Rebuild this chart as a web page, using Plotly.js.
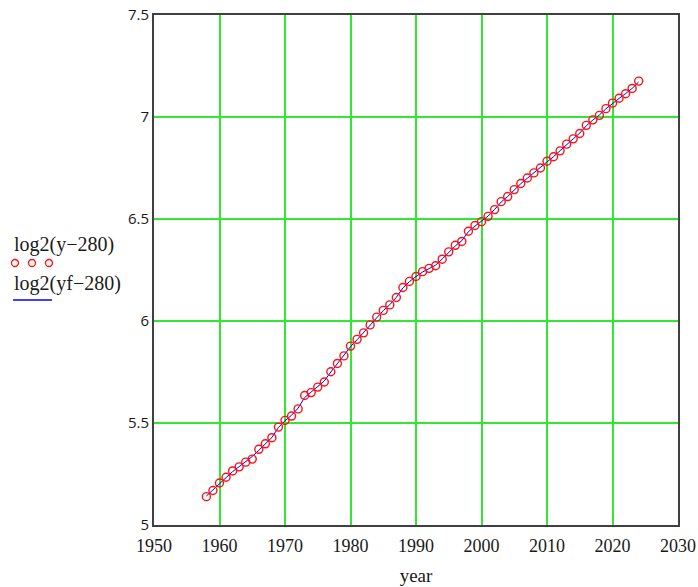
<!DOCTYPE html>
<html>
<head>
<meta charset="utf-8">
<script src="https://cdn.plot.ly/plotly-3.0.1.min.js"></script>
<style>html,body{margin:0;padding:0;background:#fff;}#chart{width:698px;height:587px;}</style>
</head>
<body>
<div id="chart"></div>
<script>
// Years of the annual points
const years = [1958,1959,1960,1961,1962,1963,1964,1965,1966,1967,1968,1969,1970,1971,1972,1973,1974,1975,1976,1977,1978,1979,1980,1981,1982,1983,1984,1985,1986,1987,1988,1989,1990,1991,1992,1993,1994,1995,1996,1997,1998,1999,2000,2001,2002,2003,2004,2005,2006,2007,2008,2009,2010,2011,2012,2013,2014,2015,2016,2017,2018,2019,2020,2021,2022,2023,2024];
// log2(y-280) : measured values (red circles)
const logY = [5.139,5.169,5.206,5.234,5.265,5.285,5.308,5.323,5.371,5.398,5.428,5.480,5.513,5.534,5.569,5.635,5.649,5.676,5.701,5.751,5.792,5.829,5.877,5.910,5.942,5.981,6.019,6.052,6.079,6.115,6.164,6.194,6.218,6.242,6.258,6.271,6.303,6.339,6.371,6.390,6.440,6.468,6.487,6.513,6.546,6.585,6.610,6.644,6.674,6.701,6.726,6.750,6.783,6.805,6.834,6.867,6.893,6.919,6.959,6.986,7.008,7.041,7.068,7.092,7.114,7.140,7.176];
// log2(yf-280) : fitted curve (blue line)
const logYf = [5.142,5.172,5.203,5.233,5.262,5.286,5.310,5.336,5.366,5.396,5.429,5.478,5.511,5.538,5.573,5.625,5.652,5.678,5.706,5.750,5.790,5.829,5.874,5.908,5.943,5.981,6.018,6.051,6.080,6.116,6.162,6.193,6.218,6.240,6.257,6.274,6.304,6.338,6.368,6.394,6.438,6.465,6.488,6.514,6.547,6.583,6.611,6.643,6.673,6.700,6.726,6.752,6.781,6.806,6.835,6.866,6.893,6.921,6.957,6.985,7.010,7.040,7.067,7.091,7.115,7.140,7.172];
const xTicks = [1950,1960,1970,1980,1990,2000,2010,2020,2030];
const yTicks = [5,5.5,6,6.5,7,7.5];
const yTickText = ['5','5.5','6','6.5','7','7.5'];
const legendLabels = ['log2(y\u2212280)','log2(yf\u2212280)'];

const serif = 'Liberation Serif, Times New Roman, serif';
const sans = 'Open Sans, Segoe UI, sans-serif';
const gridColor = '#2fe82f';
const textColor = '#1a1a1a';

const traces = [
  {x: years, y: logYf, type:'scatter', mode:'lines', line:{color:'#0000ff', width:1}, hoverinfo:'skip'},
  {x: years, y: logY, type:'scatter', mode:'markers',
   marker:{symbol:'circle-open', size:8, color:'#ff1010', line:{width:1.4, color:'#ff1010'}}}
];

// plot area in px: left 154, right 678, top 15, bottom 525
const pw = 524, ph = 510;
function px(xp){return (xp-154)/pw;}
function py(yp){return (525-yp)/ph;}
const shapes = [];
[15,32,49].forEach(cx=>{
  shapes.push({type:'circle', xref:'paper', yref:'paper',
    x0:px(cx-3.5), x1:px(cx+3.5), y0:py(263+3.5), y1:py(263-3.5),
    line:{color:'#ff1010', width:1.3}});
});
shapes.push({type:'line', xref:'paper', yref:'paper', x0:px(13), x1:px(52), y0:py(300), y1:py(300),
  line:{color:'#0000ff', width:1.6}});

const annotations = [
  {xref:'paper', yref:'paper', x:px(12), y:py(245), xanchor:'left', yanchor:'middle', showarrow:false,
   text:legendLabels[0], font:{family:serif, size:20, color:textColor}},
  {xref:'paper', yref:'paper', x:px(12), y:py(283), xanchor:'left', yanchor:'middle', showarrow:false,
   text:legendLabels[1], font:{family:serif, size:20, color:textColor}}
];

const layout = {
  width:698, height:587,
  margin:{l:154, r:20, t:15, b:62},
  paper_bgcolor:'#fff', plot_bgcolor:'#fff',
  showlegend:false,
  xaxis:{range:[1950,2030], tickvals:xTicks, ticktext:xTicks.map(String),
    showgrid:true, gridcolor:gridColor, gridwidth:2, zeroline:false,
    showline:true, mirror:true, linecolor:'#404040', linewidth:2, ticks:'',
    ticklabelstandoff:3,
    tickfont:{family:serif, size:18, color:textColor},
    title:{text:'year', font:{family:serif, size:19, color:textColor}, standoff:14}},
  yaxis:{range:[5,7.5], tickvals:yTicks, ticktext:yTickText,
    showgrid:true, gridcolor:gridColor, gridwidth:2, zeroline:false,
    showline:true, mirror:true, linecolor:'#404040', linewidth:2, ticks:'',
    tickfont:{family:sans, size:15, color:textColor}},
  shapes:shapes,
  annotations:annotations
};
Plotly.newPlot('chart', traces, layout, {staticPlot:true, displayModeBar:false});
</script>
</body>
</html>
